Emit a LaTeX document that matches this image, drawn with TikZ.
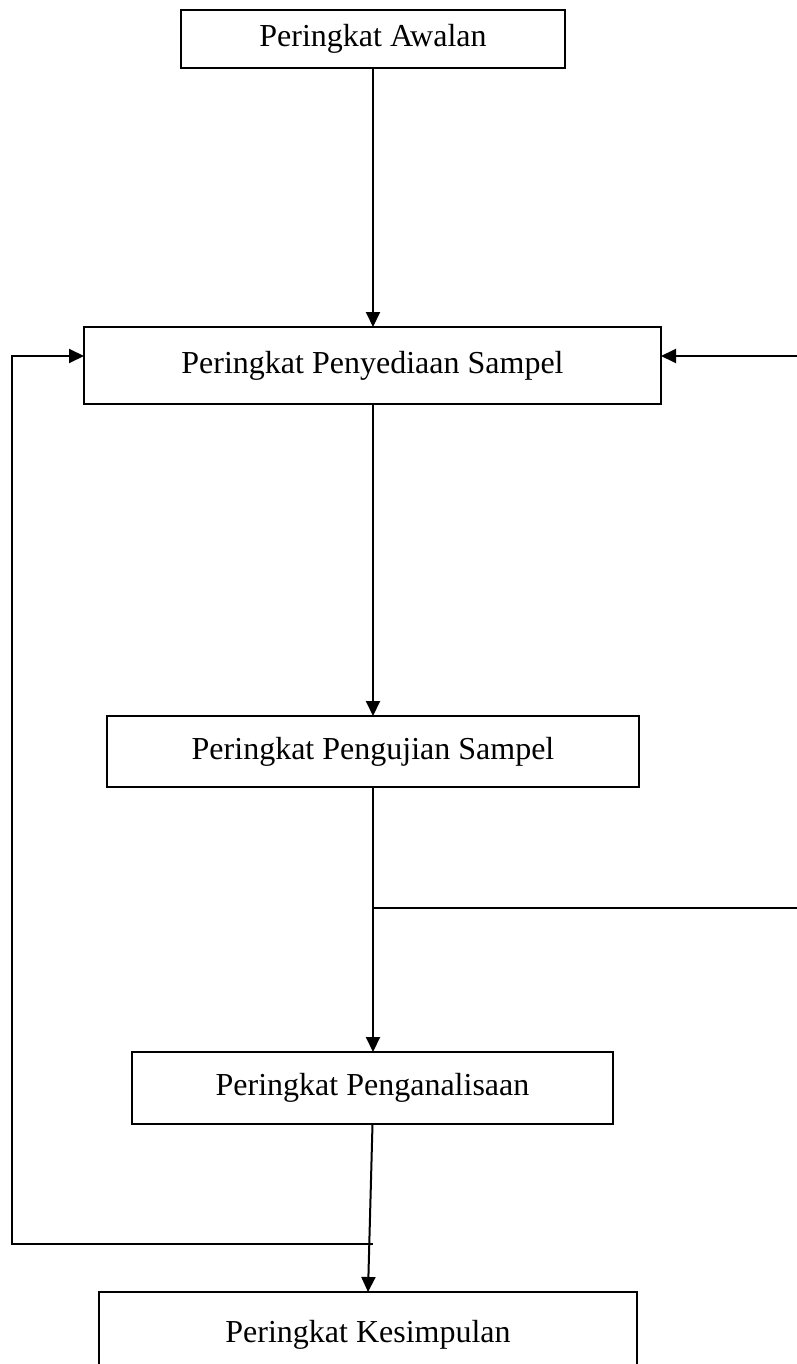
\documentclass[tikz,border=0pt]{standalone}
\usepackage{fontspec}
\setmainfont{Liberation Serif}
\usepackage{tikz}
\usetikzlibrary{arrows.meta,positioning}

\begin{document}
\begin{tikzpicture}[
    x=0.5pt, y=-0.5pt,
    font=\fontsize{16}{19}\selectfont,
    block/.style={rectangle, draw=black, line width=1pt, align=center, inner sep=0pt, outer sep=0pt},
    arrow/.style={-{Triangle[length=7.5pt,width=7pt]}, line width=1pt},
    line/.style={line width=1pt}
]
\useasboundingbox (0,0) rectangle (797,1364);

\node[block, minimum width=192pt, minimum height=29pt] (awal) at (373,39) {Peringkat Awalan};
\node[block, minimum width=288.5pt, minimum height=38.5pt] (sedia) at (372.5,365.5) {Peringkat Penyediaan Sampel};
\node[block, minimum width=266pt, minimum height=35.5pt] (uji) at (373,751.5) {Peringkat Pengujian Sampel};
\node[block, minimum width=240.5pt, minimum height=36pt] (analisa) at (372.5,1088) {Peringkat Penganalisaan};
\node[block, minimum width=269pt, text height=25pt, text depth=40pt, anchor=north] (simpul) at (368,1292) {Peringkat Kesimpulan};

\coordinate (cabang) at (373,908);
\coordinate (kanan) at (830,908);
\coordinate (simpang) at (373,1244);
\coordinate (kiri) at (12,1244);

\draw[arrow] (awal.south) -- (awal.south |- sedia.north);
\draw[arrow] (awal.south |- sedia.south) -- (awal.south |- uji.north);
\draw[arrow] (awal.south |- uji.south) -- (awal.south |- analisa.north);
\draw[arrow] (analisa.south) -- (simpul.north);
\draw[arrow] (cabang) -- (kanan) |- ([yshift=4.75pt]sedia.east);
\draw[arrow] (simpang) -- (kiri) |- ([yshift=4.75pt]sedia.west);
\end{tikzpicture}
\end{document}
